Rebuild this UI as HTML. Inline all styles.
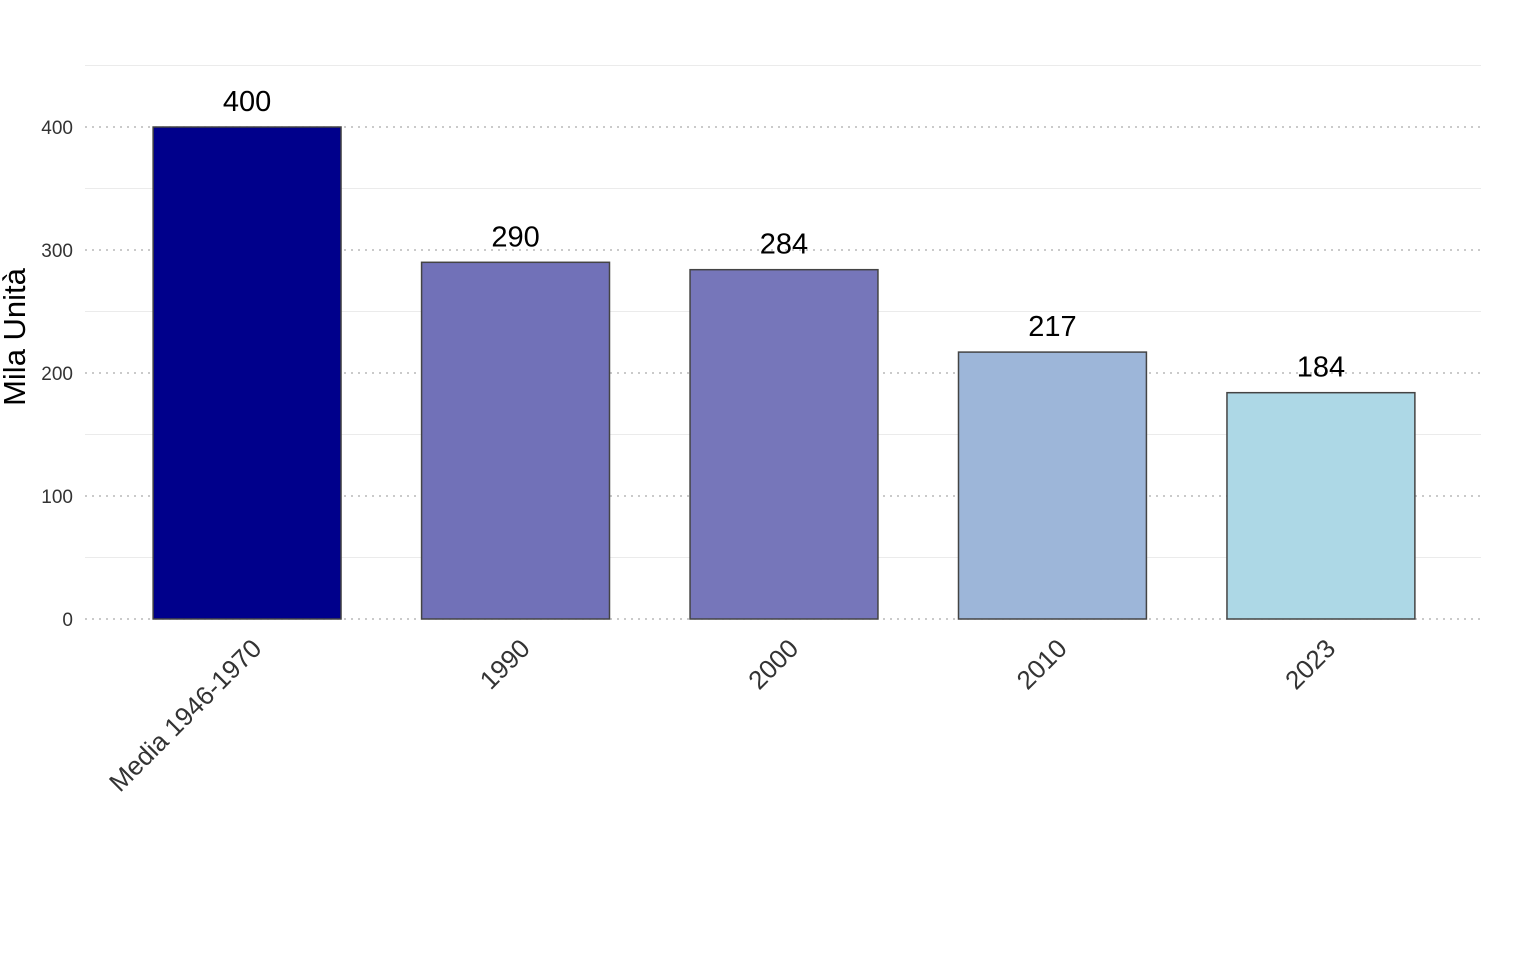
<!DOCTYPE html>
<html><head><meta charset="utf-8"><style>
html,body{margin:0;padding:0;background:#fff;}
svg{display:block;font-family:"Liberation Sans",sans-serif;}
</style></head><body>
<svg id="chart" width="1536" height="960"></svg>
<script>
const categories = ["Media 1946-1970","1990","2000","2010","2023"];
const values = [400,290,284,217,184];
const colors = ["#00008B","#7171B8","#7676BA","#9DB6D9","#ADD8E6"];
const yTicks = [0,100,200,300,400];
const yMinor = [50,150,250,350,450];

const svg = document.getElementById('chart');
const NS = 'http://www.w3.org/2000/svg';
const left = 86, right = 1482;
const y0 = 619, pxPer = 123/100;
const band = (right-left)/(categories.length+0.2);
function yScale(v){ return y0 - v*pxPer; }
function xCenter(i){ return left + band*(0.6+i); }
function el(tag, attrs){ const e=document.createElementNS(NS,tag); for(const k in attrs) e.setAttribute(k,attrs[k]); svg.appendChild(e); return e; }

yMinor.forEach(v=>{
  const l = el('line',{x1:left-1,x2:right-1,y1:yScale(v),y2:yScale(v),stroke:'#ebebeb','stroke-width':1});
  
  
});
yTicks.forEach(v=>{
  const l = el('line',{x1:left-1,x2:right-1,y1:yScale(v),y2:yScale(v),stroke:'#aaaaaa','stroke-width':1.3,'stroke-dasharray':'2 5'});
  
  
  const t = el('text',{x:73,y:yScale(v)+7,'text-anchor':'end','font-size':19,fill:'#333'});
  t.textContent = v;
  
  
});
const bw = band*0.7;
values.forEach((v,i)=>{
  const cx = xCenter(i);
  const r = el('rect',{x:cx-bw/2,y:yScale(v),width:bw,height:y0-yScale(v),fill:colors[i],stroke:'#444','stroke-width':1.5});
  
  
  const t = el('text',{x:cx,y:yScale(v)-16,'text-anchor':'middle','font-size':29,fill:'#000'});
  t.textContent = v;
  
  
  const xl = el('text',{x:0,y:0,'text-anchor':'end','font-size':26,fill:'#333',transform:`translate(${cx+16},${y0+31}) rotate(-45)`});
  xl.textContent = categories[i];
  
  
});
const yt = el('text',{x:0,y:0,'text-anchor':'middle','font-size':31,fill:'#000',transform:'translate(25,337) rotate(-90)'});
yt.textContent = 'Mila Unità';


</script>
</body></html>
